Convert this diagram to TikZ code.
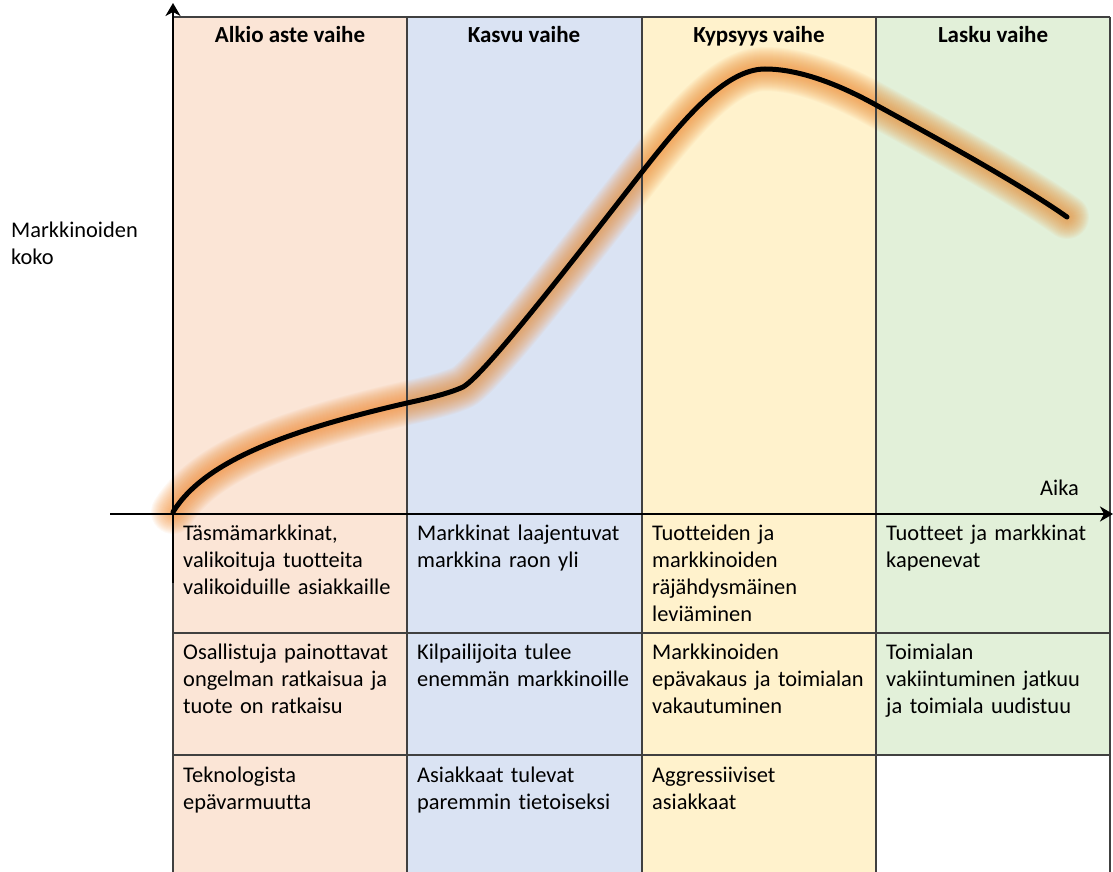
\documentclass[tikz,border=0pt]{standalone}
\usepackage{fontspec}
\setmainfont{Carlito}[Ligatures={NoCommon}]
\usetikzlibrary{arrows.meta}

\definecolor{phaseA}{RGB}{251,229,214}
\definecolor{phaseB}{RGB}{218,227,243}
\definecolor{phaseC}{RGB}{255,242,204}
\definecolor{phaseD}{RGB}{226,240,217}
\definecolor{gridc}{RGB}{64,64,64}
\definecolor{glowc}{RGB}{242,140,50}

\tikzset{
  gridline/.style={draw=gridc, line width=1.3pt},
  axis/.style={draw=black, line width=2.8pt, -{Stealth[length=13pt,width=15pt,inset=4pt]}},
  phasehead/.style={font=\bfseries\fontsize{23}{28}\selectfont, anchor=base, inner sep=0pt},
  cell/.style={font=\fontsize{22.4}{27}\selectfont, anchor=base west, inner sep=0pt,
               text width=226pt, align=left},
  axislabel/.style={font=\fontsize{22.4}{27}\selectfont, anchor=base west, inner sep=0pt,
               text width=150pt, align=left},
  glow/.style={draw=glowc, line cap=round, line join=round, opacity=0.05},
  curve/.style={draw=black, line width=5pt, line cap=round, line join=round}
}

\begin{document}
\begin{tikzpicture}[x=1pt, y=-1pt]
  \useasboundingbox (0,0) rectangle (1113,872);

  % phase columns
  \fill[phaseA] (173,17) rectangle (407,872);
  \fill[phaseB] (407,17) rectangle (642,872);
  \fill[phaseC] (642,17) rectangle (876,872);
  \fill[phaseD] (876,17) rectangle (1110,755);

  % market size curve path
  \def\lifecycle{(173,512) .. controls (205,460) and (290,430) .. (407,403)
      .. controls (430,398) and (450,393) .. (463,387)
      .. controls (485,375) and (585,245) .. (642,172)
      .. controls (682,121) and (725,69) .. (765,69)
      .. controls (800,69) and (840,85) .. (876,105)
      .. controls (940,140) and (1020,184) .. (1067,217)}

  % soft orange halo: many thin translucent layers build a smooth fade
  \foreach \w in {8,10,...,44}{
    \draw[glow, line width=\w pt] \lifecycle;
  }

  % table grid
  \draw[gridline] (173,17) -- (1110,17);
  \draw[gridline] (173,17) -- (173,872);
  \draw[gridline] (407,17) -- (407,872);
  \draw[gridline] (642,17) -- (642,872);
  \draw[gridline] (876,17) -- (876,872);
  \draw[gridline] (1110,17) -- (1110,872);
  \draw[gridline] (173,633) -- (1110,633);
  \draw[gridline] (173,755) -- (1110,755);

  % axes
  \coordinate (ybot) at (173,583);
  \coordinate (ytop) at (173,3);
  \coordinate (xleft) at (110,514);
  \coordinate (xright) at (1113,514);
  \draw[axis] (ybot) -- (ytop);
  \draw[axis] (xleft) -- (xright);

  % the curve itself
  \draw[curve] \lifecycle;

  % phase headings
  \node[phasehead] (hA) at (290,43) {Alkio aste vaihe};
  \node[phasehead] (hB) at (524,43) {Kasvu vaihe};
  \node[phasehead] (hC) at (759,43) {Kypsyys vaihe};
  \node[phasehead] (hD) at (993,43) {Lasku vaihe};

  % axis labels
  \node[axislabel] (ylab) at (11,237) {Markkinoiden\\koko};
  \node[axislabel] (xlab) at (1040,495) {Aika};

  % first row
  \node[cell] (a1) at (183,540) {Täsmämarkkinat,\\valikoituja tuotteita\\valikoiduille asiakkaille};
  \node[cell] (b1) at (417,540) {Markkinat laajentuvat\\markkina raon yli};
  \node[cell] (c1) at (652,540) {Tuotteiden ja\\markkinoiden\\räjähdysmäinen\\leviäminen};
  \node[cell] (d1) at (886,540) {Tuotteet ja markkinat\\kapenevat};

  % second row
  \node[cell] (a2) at (183,659) {Osallistuja painottavat\\ongelman ratkaisua ja\\tuote on ratkaisu};
  \node[cell] (b2) at (417,659) {Kilpailijoita tulee\\enemmän markkinoille};
  \node[cell] (c2) at (652,659) {Markkinoiden\\epävakaus ja toimialan\\vakautuminen};
  \node[cell] (d2) at (886,659) {Toimialan\\vakiintuminen jatkuu\\ja toimiala uudistuu};

  % third row
  \node[cell] (a3) at (183,782) {Teknologista\\epävarmuutta};
  \node[cell] (b3) at (417,782) {Asiakkaat tulevat\\paremmin tietoiseksi};
  \node[cell] (c3) at (652,782) {Aggressiiviset\\asiakkaat};
\end{tikzpicture}
\end{document}
